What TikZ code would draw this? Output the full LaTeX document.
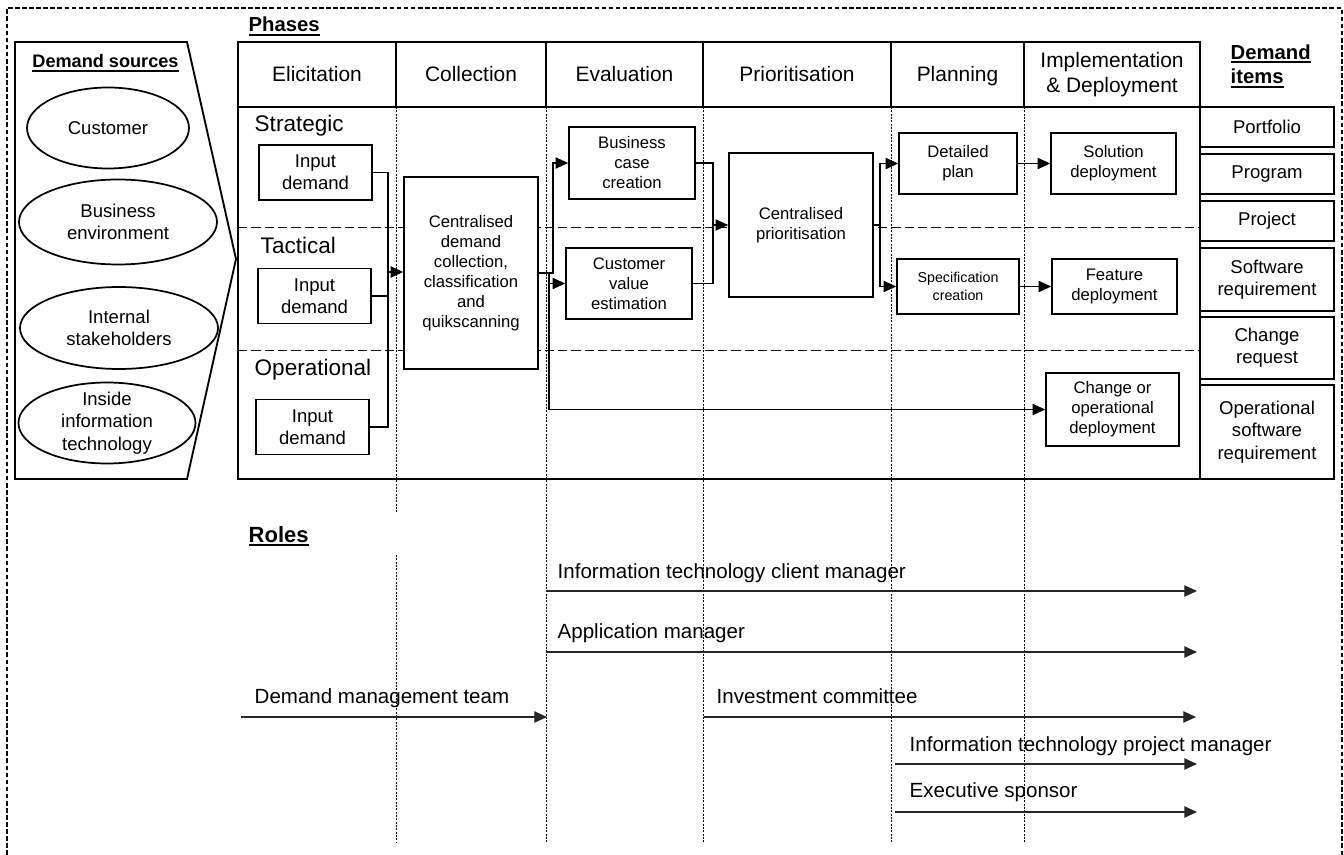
\documentclass[tikz,border=0pt]{standalone}
\usepackage{fontspec}
\setmainfont{Liberation Sans}
\usepackage{tikz}
\usetikzlibrary{shapes.geometric, arrows.meta}

\newcommand{\thickul}[1]{\leavevmode\vtop{\hbox{#1}\kern1.2pt\hrule height 1.3pt}}

\begin{document}
\begin{tikzpicture}[x=0.75pt, y=-0.75pt, >={Triangle[length=9.5pt, width=8.5pt]},
  box/.style={draw, line width=1.25pt, fill=white, align=center, inner sep=0pt,
    font=\fontsize{12.5}{15}\selectfont},
  inbox/.style={box, minimum width=84.75pt, minimum height=41.25pt,
    font=\fontsize{13.9}{16.7}\selectfont},
  itembox/.style={draw, line width=1.5pt, fill=white, align=center, inner sep=0pt,
    minimum width=100.5pt, font=\fontsize{13.9}{16.7}\selectfont},
  src/.style={draw, ellipse, line width=1.3pt, inner sep=0pt},
  srctext/.style={align=center, font=\fontsize{13.9}{16.7}\selectfont},
  hdr/.style={anchor=base, font=\fontsize{15.7}{18.8}\selectfont},
  lane/.style={anchor=base west, font=\fontsize{16.9}{20}\selectfont},
  title/.style={anchor=base west, align=left, font=\bfseries\fontsize{15.2}{18.5}\selectfont},
  role/.style={anchor=base west, font=\fontsize{15.4}{18.5}\selectfont},
  link/.style={line width=0.9pt},
  rolearrow/.style={->, line width=0.9pt, black!85},
  frame/.style={line width=1.9pt},
  lanesep/.style={line width=0.6pt, dash pattern=on 7pt off 3pt},
  colsep/.style={line width=0.55pt, dash pattern=on 1.5pt off 1pt}]

  \useasboundingbox (0,0) rectangle (1344,855);

  % outer frame (open at the bottom)
  \draw[line width=1.4pt, dash pattern=on 3.5pt off 1.8pt]
    (7,855) -- (7,8) -- (1342,8) -- (1342,855);

  % --- Demand sources ---
  \draw[line width=1.4pt] (15,42) -- (187,42) -- (236,259) -- (187,479) -- (15,479) -- cycle;
  \node[anchor=base, font=\bfseries\fontsize{13.6}{16}\selectfont] (srchead) at (105.5,68)
    {\thickul{Demand sources}};
  \node[src, minimum width=121.5pt, minimum height=60.75pt] (cust) at (108,128) {};
  \node[srctext] (cust-t) at (cust) {Customer};
  \node[src, minimum width=148.5pt, minimum height=63.75pt] (bizenv) at (118,222) {};
  \node[srctext] (bizenv-t) at (bizenv) {Business\\environment};
  \node[src, minimum width=148.5pt, minimum height=61.5pt] (intern) at (119,328) {};
  \node[srctext] (intern-t) at (intern) {Internal\\stakeholders};
  \node[src, minimum width=132.75pt, minimum height=60.75pt] (insideit) at (107,423) {};
  \node[srctext] (insideit-t) at (insideit) {Inside\\information\\technology};

  % --- Phases ---
  \node[title] (phases) at (244,32) {\thickul{Phases}};

  % column separators
  \foreach \x in {546,703,891,1024}
    \draw[colsep] (\x,107) -- (\x,843);
  \draw[colsep] (396,107) -- (396,513) (396,555) -- (396,843);

  % lanes
  \draw[lanesep] (238,227) -- (1200,227);
  \draw[lanesep] (238,350) -- (1200,350);
  \node[lane] (strat) at (250,132) {Strategic};
  \node[lane] (tact) at (256,254) {Tactical};
  \node[lane] (oper) at (250,375) {Operational};

  % table frame and header
  \draw[frame] (238,42) rectangle (1200,479);
  \draw[frame] (238,107) -- (1200,107);
  \foreach \x in {396,546,703,891,1024}
    \draw[line width=1.5pt] (\x,42) -- (\x,107);
  \foreach \x/\n/\t in {317/elic/Elicitation, 471/coll/Collection, 624.5/eval/Evaluation,
                        797/prior/Prioritisation, 957.5/plan/Planning}
    \node[hdr] (h-\n) at (\x,81.5) {\t};
  \node[align=center, font=\fontsize{15.7}{19}\selectfont] (h-impl) at (1112,74.5)
    {Implementation\\\& Deployment};

  % process boxes
  \node[inbox] (in1) at (315.5,172.5) {Input\\demand};
  \node[inbox] (in2) at (314.5,296) {Input\\demand};
  \node[inbox] (in3) at (312.5,427) {Input\\demand};
  \node[box, minimum width=100.5pt, minimum height=144pt] (collect) at (471,273)
    {Centralised\\demand\\collection,\\classification\\and\\quikscanning};
  \node[box, minimum width=94.5pt, minimum height=54pt] (bizcase) at (632,163)
    {Business\\case\\creation};
  \node[box, minimum width=94.5pt, minimum height=53.25pt] (custval) at (629,283.5)
    {Customer\\value\\estimation};
  \node[box, minimum width=108pt, minimum height=108pt] (prio) at (801,225)
    {Centralised\\prioritisation};
  \node[box, minimum width=88.5pt, minimum height=45.75pt] (detplan) at (958,163.5)
    {Detailed\\plan};
  \node[box, minimum width=93.75pt, minimum height=45.75pt] (soldep) at (1113.5,163.5)
    {Solution\\deployment};
  \node[box, minimum width=91.5pt, minimum height=41.25pt, font=\fontsize{10.7}{13.5}\selectfont]
    (spec) at (958,286.5) {Specification\\creation};
  \node[box, minimum width=93.75pt, minimum height=41.25pt] (featdep) at (1114.5,286.5)
    {Feature\\deployment};
  \node[box, minimum width=99.75pt, minimum height=54.75pt] (chgdep) at (1112.5,409.5)
    {Change or\\operational\\deployment};

  % connectors
  \coordinate (jA) at (388,272);
  \coordinate (jB) at (549,273);
  \coordinate (jC) at (553,273);
  \coordinate (jD) at (713,225);
  \coordinate (jE) at (880,225);
  \draw[link] (in1.east) -| (jA);
  \draw[link] (in3.east) -| (jA);
  \draw[link] (in2.east) -- (in2.east -| jA);
  \draw[link, ->] (jA) -- (collect.west |- jA);
  \draw[link, ->] (collect.east) -- (jC) |- (bizcase.west);
  \draw[link, ->] (jB) |- (custval.west);
  \draw[link, ->] (jB) |- (chgdep.west);
  \draw[link] (bizcase.east) -| (jD);
  \draw[link] (custval.east) -| (jD);
  \draw[link, ->] (jD) -- (prio.west);
  \draw[link] (prio.east) -- (jE);
  \draw[link, ->] (jE) |- (detplan.west);
  \draw[link, ->] (jE) |- (spec.west);
  \draw[link, ->] (detplan) -- (soldep);
  \draw[link, ->] (spec) -- (featdep);

  % --- Demand items ---
  \node[title] (items) at (1226,84) {\thickul{Demand}\\\thickul{items}};
  \foreach \y/\h/\n/\t in {127/30/port/Portfolio, 174/30/prog/Program, 221/30/proj/Project,
                           279.5/47.25/swreq/Software\\requirement,
                           348/46.5/chreq/Change\\request,
                           432/70.5/opreq/Operational\\software\\requirement}
    \node[itembox, minimum height=\h pt] (\n) at (1267,\y) {\t};

  % --- Roles ---
  \node[title, font=\bfseries\fontsize{16.5}{20}\selectfont] (roles) at (244,542) {\thickul{Roles}};
  \coordinate (r1a) at (546,591);  \coordinate (r1b) at (1197,591);
  \coordinate (r2a) at (546,652);  \coordinate (r2b) at (1197,652);
  \coordinate (r3a) at (241,717);  \coordinate (r3b) at (547,717);
  \coordinate (r4a) at (704,717);  \coordinate (r4b) at (1196,717);
  \coordinate (r5a) at (895,764);  \coordinate (r5b) at (1197,764);
  \coordinate (r6a) at (895,812);  \coordinate (r6b) at (1197,812);
  \foreach \r in {1,...,6}
    \draw[rolearrow] (r\r a) -- (r\r b);
  \node[role] (r1) at (553,578) {Information technology client manager};
  \node[role] (r2) at (553,638) {Application manager};
  \node[role] (r3) at (250,703) {Demand management team};
  \node[role] (r4) at (712,703) {Investment committee};
  \node[role] (r5) at (905,751) {Information technology project manager};
  \node[role] (r6) at (905,797) {Executive sponsor};
\end{tikzpicture}
\end{document}
